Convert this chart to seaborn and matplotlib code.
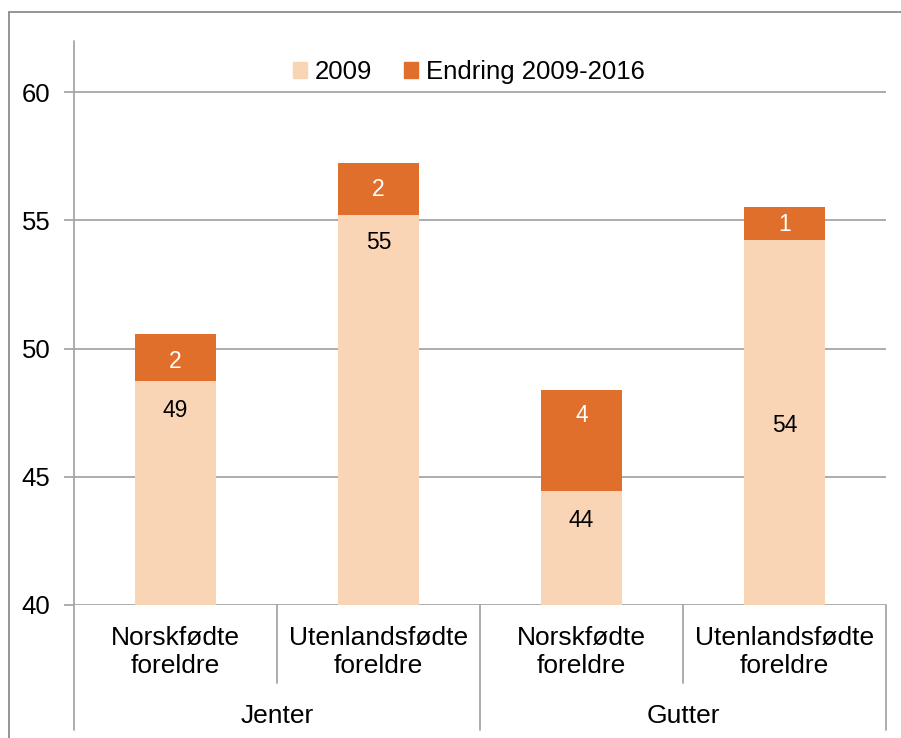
import matplotlib
matplotlib.use("Agg")
import matplotlib.pyplot as plt
import pandas as pd
import seaborn as sns
from matplotlib.lines import Line2D
from matplotlib.patches import Patch
from matplotlib.transforms import blended_transform_factory

# data
categories = ["Norskfødte\nforeldre", "Utenlandsfødte\nforeldre",
              "Norskfødte\nforeldre", "Utenlandsfødte\nforeldre"]
groups = ["Jenter", "Gutter"]
base_2009 = [48.73, 55.20, 44.44, 54.23]
change_2009_2016 = [1.84, 2.03, 3.94, 1.29]
labels_2009 = ["49", "55", "44", "54"]
labels_change = ["2", "2", "4", "1"]
# where the value labels sit (y, in data units)
label_y_2009 = [47.6, 54.15, 43.3, 47.0]
label_y_change = [49.5, 56.2, 47.4, 54.85]

LIGHT = "#F9D5B6"
DARK = "#DF6F2B"
GRID = "#A6A6A6"

df = pd.DataFrame({
    "id": [f"c{i}" for i in range(len(categories))],
    "base": base_2009,
    "total": [b + c for b, c in zip(base_2009, change_2009_2016)],
})

sns.set_style("white")
plt.rcParams["font.family"] = ["Liberation Sans", "DejaVu Sans"]
plt.rcParams["text.color"] = "black"
plt.rcParams["ytick.labelcolor"] = "black"

fig = plt.figure(figsize=(9.01, 7.38), dpi=100)
ax = fig.add_axes([74 / 901, 1 - 605 / 738, 812 / 901, 564 / 738])

sns.barplot(data=df, x="id", y="total", color=DARK, width=0.4,
            saturation=1, errorbar=None, linewidth=0, ax=ax)
sns.barplot(data=df, x="id", y="base", color=LIGHT, width=0.4,
            saturation=1, errorbar=None, linewidth=0, ax=ax)

ax.set_ylim(40, 62)
ax.set_xlim(-0.5, len(categories) - 0.5)
ax.set_yticks([40, 45, 50, 55, 60])
ax.set_xticks([])
ax.set_xlabel("")
ax.set_ylabel("")
ax.yaxis.grid(True, color=GRID, lw=1.3)
ax.set_axisbelow(True)
for s in ax.spines.values():
    s.set_visible(False)
ax.tick_params(axis="y", length=7, width=1.3, color=GRID, pad=10,
               labelsize=18.5, labelcolor="black", left=True)

for i in range(len(categories)):
    ax.text(i, label_y_2009[i], labels_2009[i], ha="center", va="center",
            fontsize=16.5, color="black")
    ax.text(i, label_y_change[i], labels_change[i], ha="center", va="center",
            fontsize=16.5, color="white")

# multi-level category axis
tr = blended_transform_factory(ax.transData, ax.transAxes)
for i, cat in enumerate(categories):
    ax.text(i, -0.0835, cat, transform=tr, ha="center", va="center",
            fontsize=19, linespacing=1.2, color="black")
for g, name in enumerate(groups):
    ax.text(2 * g + 0.5, -0.197, name, transform=tr, ha="center",
            va="center", fontsize=19, color="black")

line_kw = dict(transform=tr, color=GRID, lw=1.3, clip_on=False)
for x in [-0.5, 1.5, 3.5]:
    ax.add_line(Line2D([x, x], [-0.2216, 1.0 if x == -0.5 else 0.0], **line_kw))
for x in [0.5, 2.5]:
    ax.add_line(Line2D([x, x], [-0.138, 0.0], **line_kw))

handles = [Patch(color=LIGHT, label="2009"),
           Patch(color=DARK, label="Endring 2009-2016")]
leg = ax.legend(handles=handles, loc="center", bbox_to_anchor=(0.486, 0.945),
                ncol=2, frameon=False, fontsize=18.5, handlelength=0.55,
                handleheight=0.55, handletextpad=0.3, columnspacing=1.25)
for t in leg.get_texts():
    t.set_color("black")

# outer chart frame (cut at right and bottom)
fig.add_artist(Line2D([9 / 901, 9 / 901], [0, 1 - 12 / 738],
                      transform=fig.transFigure, color="#8C8C8C", lw=1.3))
fig.add_artist(Line2D([9 / 901, 1], [1 - 12 / 738, 1 - 12 / 738],
                      transform=fig.transFigure, color="#8C8C8C", lw=1.3))

fig.savefig("out.png", dpi=100)
